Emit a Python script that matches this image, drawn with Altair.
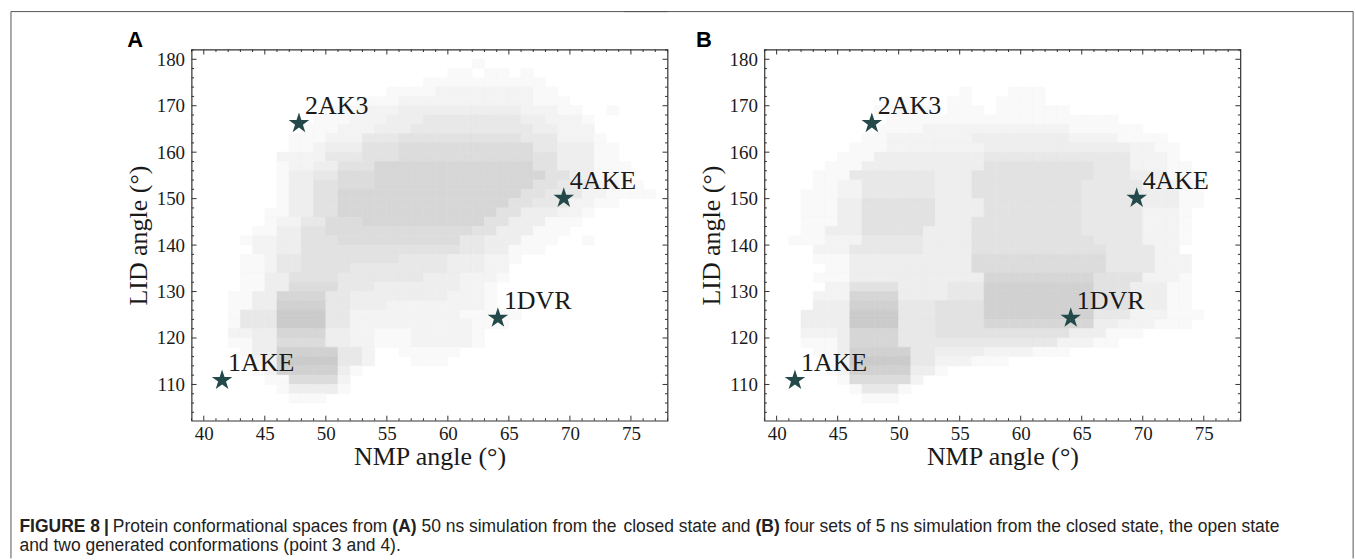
import re
import altair as alt
import pandas as pd

# ---------------- values ----------------
X_DOMAIN = [39, 78]
Y_DOMAIN = [102.2, 182.1]
X_MAJOR = [40, 45, 50, 55, 60, 65, 70, 75]
X_MINOR = [v for v in range(39, 79) if v % 5 != 0]
Y_MAJOR = [110, 120, 130, 140, 150, 160, 170, 180]
Y_MINOR = [v for v in range(104, 183, 2) if v % 10 != 0]

REF_NAMES = ["1AKE", "2AK3", "4AKE", "1DVR"]
REF_NMP = [41.5, 47.8, 69.5, 64.1]
REF_LID = [110.9, 166.2, 150.1, 124.3]

# density of the grey point cloud, read per cell (1 deg NMP x 2 deg LID)
# key = lower LID edge of the row, value = runs (NMP from, NMP to, level 1..9)
A_RUNS = {
    178: [(62, 62, 1)],
    176: [(60, 61, 1), (63, 64, 1), (66, 66, 1)],
    174: [(58, 67, 1)],
    172: [(55, 58, 1), (59, 66, 2), (67, 68, 1)],
    170: [(53, 55, 1), (56, 58, 2), (59, 66, 2), (67, 69, 1)],
    168: [(50, 52, 1), (53, 55, 2), (56, 65, 3), (66, 68, 2), (69, 70, 1), (73, 73, 1)],
    166: [(49, 51, 1), (52, 54, 2), (55, 57, 3), (58, 65, 4), (66, 67, 3), (68, 70, 2), (71, 71, 1)],
    164: [(48, 50, 1), (51, 53, 2), (54, 56, 3), (57, 66, 4), (67, 68, 3), (69, 71, 2)],
    162: [(47, 49, 1), (50, 52, 2), (53, 55, 4), (56, 65, 5), (66, 68, 4), (69, 71, 2), (72, 72, 1)],
    160: [(47, 48, 1), (49, 49, 2), (50, 52, 3), (53, 55, 5), (56, 66, 6), (67, 68, 4), (69, 71, 3), (72, 73, 1)],
    158: [(46, 49, 2), (50, 52, 4), (53, 55, 5), (56, 66, 6), (67, 68, 5), (69, 71, 3), (72, 73, 1)],
    156: [(46, 46, 1), (47, 48, 2), (49, 50, 3), (51, 53, 5), (54, 66, 7), (67, 68, 5), (69, 71, 3), (72, 74, 1)],
    154: [(46, 46, 1), (47, 48, 3), (49, 50, 4), (51, 53, 6), (54, 67, 7), (68, 69, 5), (70, 71, 3), (72, 74, 1)],
    152: [(46, 46, 1), (47, 48, 3), (49, 50, 5), (51, 53, 6), (54, 66, 7), (67, 68, 5), (69, 71, 4), (72, 73, 2), (74, 75, 1)],
    150: [(46, 46, 1), (47, 48, 3), (49, 50, 5), (51, 65, 7), (66, 67, 5), (68, 70, 4), (71, 72, 2), (73, 76, 1)],
    148: [(46, 46, 1), (47, 48, 3), (49, 50, 5), (51, 64, 7), (65, 66, 5), (67, 69, 4), (70, 71, 2), (72, 73, 1)],
    146: [(45, 46, 1), (47, 48, 3), (49, 50, 5), (51, 63, 7), (64, 65, 5), (66, 68, 3), (69, 70, 2), (71, 71, 1)],
    144: [(45, 45, 1), (46, 47, 2), (48, 49, 4), (50, 52, 6), (53, 62, 7), (63, 64, 5), (65, 67, 3), (68, 70, 1)],
    142: [(44, 45, 1), (46, 47, 3), (48, 49, 5), (50, 61, 6), (62, 63, 5), (64, 66, 3), (67, 69, 1)],
    140: [(43, 43, 1), (44, 45, 2), (46, 47, 3), (48, 50, 5), (51, 60, 6), (61, 62, 4), (63, 65, 3), (66, 68, 1), (71, 71, 1)],
    138: [(44, 45, 2), (46, 47, 3), (48, 60, 5), (61, 62, 4), (63, 64, 3), (65, 67, 1)],
    136: [(43, 44, 1), (45, 45, 2), (46, 47, 4), (48, 55, 5), (56, 59, 4), (60, 62, 3), (63, 64, 2), (65, 65, 1)],
    134: [(43, 44, 1), (45, 45, 2), (46, 47, 4), (48, 51, 5), (52, 59, 4), (60, 62, 3), (63, 64, 2)],
    132: [(43, 44, 1), (45, 46, 3), (47, 50, 5), (51, 57, 4), (58, 60, 3), (61, 63, 2), (64, 64, 1)],
    130: [(43, 44, 1), (45, 46, 3), (47, 50, 6), (51, 53, 4), (54, 60, 3), (61, 62, 2), (63, 63, 1)],
    128: [(42, 43, 1), (44, 45, 3), (46, 49, 7), (50, 51, 4), (52, 59, 3), (60, 62, 2), (63, 63, 1)],
    126: [(42, 43, 1), (44, 45, 3), (46, 49, 8), (50, 51, 4), (52, 54, 3), (55, 62, 2), (63, 63, 1)],
    124: [(42, 42, 1), (43, 45, 4), (46, 49, 9), (50, 51, 4), (52, 60, 2), (61, 65, 1)],
    122: [(42, 42, 1), (43, 45, 4), (46, 49, 9), (50, 51, 4), (52, 61, 2), (62, 64, 1)],
    120: [(42, 43, 2), (44, 45, 3), (46, 49, 7), (50, 51, 3), (52, 53, 2), (54, 56, 1), (57, 61, 2), (62, 62, 1)],
    118: [(42, 43, 1), (44, 45, 3), (46, 49, 6), (50, 51, 3), (52, 53, 2), (54, 56, 1), (57, 61, 2), (62, 62, 1)],
    116: [(43, 43, 1), (44, 45, 3), (46, 50, 8), (51, 52, 4), (53, 53, 2), (56, 60, 1)],
    114: [(44, 45, 2), (46, 50, 9), (51, 52, 4), (53, 53, 2), (57, 59, 1)],
    112: [(44, 44, 1), (45, 45, 2), (46, 50, 8), (51, 51, 3), (52, 52, 1)],
    110: [(45, 46, 1), (47, 50, 6), (51, 51, 2)],
    108: [(46, 46, 1), (47, 50, 3), (51, 51, 1)],
    106: [(47, 49, 1)],
}

B_RUNS = {
    172: [(55, 55, 1), (59, 61, 1)],
    170: [(50, 51, 1), (54, 55, 1), (58, 61, 1)],
    168: [(48, 52, 1), (54, 56, 1), (58, 63, 1)],
    166: [(49, 57, 1), (58, 64, 1), (65, 67, 1)],
    164: [(48, 51, 1), (52, 54, 2), (55, 63, 2), (64, 69, 1)],
    162: [(47, 48, 1), (49, 55, 2), (56, 63, 3), (64, 67, 2), (68, 71, 1)],
    160: [(46, 48, 1), (49, 56, 2), (57, 68, 3), (69, 70, 2), (71, 72, 1)],
    158: [(45, 47, 1), (48, 56, 3), (57, 68, 4), (69, 71, 2), (72, 72, 1)],
    156: [(44, 46, 1), (47, 56, 3), (57, 65, 5), (66, 68, 4), (69, 71, 2), (72, 73, 1)],
    154: [(43, 45, 1), (46, 52, 4), (53, 55, 3), (56, 65, 5), (66, 68, 4), (69, 71, 3), (72, 73, 1)],
    152: [(43, 44, 1), (45, 46, 2), (47, 52, 4), (53, 55, 3), (56, 64, 5), (65, 69, 4), (70, 72, 2), (73, 74, 1)],
    150: [(42, 44, 1), (45, 46, 2), (47, 52, 4), (53, 55, 3), (56, 64, 5), (65, 69, 4), (70, 72, 3), (73, 74, 1)],
    148: [(42, 44, 1), (45, 46, 3), (47, 52, 5), (53, 56, 3), (57, 64, 5), (65, 69, 4), (70, 72, 3), (73, 74, 1)],
    146: [(42, 44, 1), (45, 46, 3), (47, 52, 5), (53, 56, 3), (57, 64, 5), (65, 69, 4), (70, 72, 2), (73, 73, 1)],
    144: [(42, 44, 1), (45, 46, 3), (47, 52, 5), (53, 55, 3), (56, 64, 5), (65, 69, 4), (70, 72, 2), (73, 73, 1)],
    142: [(42, 43, 1), (44, 46, 3), (47, 51, 5), (52, 55, 3), (56, 64, 5), (65, 69, 4), (70, 72, 2), (73, 73, 1)],
    140: [(41, 43, 1), (44, 46, 2), (47, 51, 4), (52, 55, 3), (56, 65, 5), (66, 69, 4), (70, 72, 2), (73, 73, 1)],
    138: [(43, 45, 2), (46, 51, 4), (52, 55, 3), (56, 66, 5), (67, 70, 4), (71, 72, 2)],
    136: [(43, 45, 1), (46, 55, 3), (56, 66, 6), (67, 70, 4), (71, 73, 2)],
    134: [(44, 45, 1), (46, 55, 3), (56, 66, 6), (67, 70, 4), (71, 73, 2)],
    132: [(43, 45, 1), (46, 56, 3), (57, 65, 7), (66, 69, 5), (70, 72, 2), (73, 73, 1)],
    130: [(44, 45, 2), (46, 49, 5), (50, 53, 3), (54, 56, 4), (57, 65, 8), (66, 68, 5), (69, 71, 3), (72, 73, 1)],
    128: [(43, 45, 2), (46, 49, 7), (50, 53, 3), (54, 56, 4), (57, 65, 8), (66, 68, 5), (69, 71, 3), (72, 73, 1)],
    126: [(43, 45, 3), (46, 49, 8), (50, 52, 4), (53, 56, 5), (57, 65, 8), (66, 68, 5), (69, 71, 3), (72, 73, 1)],
    124: [(42, 45, 3), (46, 49, 9), (50, 52, 4), (53, 56, 5), (57, 65, 8), (66, 68, 4), (69, 71, 2), (72, 74, 1)],
    122: [(42, 45, 3), (46, 49, 9), (50, 52, 4), (53, 56, 5), (57, 65, 7), (66, 67, 3), (68, 70, 2), (71, 73, 1)],
    120: [(42, 44, 2), (45, 45, 3), (46, 49, 7), (50, 52, 4), (53, 56, 5), (57, 63, 5), (64, 66, 3), (67, 69, 1)],
    118: [(42, 44, 1), (45, 45, 3), (46, 49, 7), (50, 52, 4), (53, 56, 4), (57, 62, 4), (63, 65, 2), (66, 67, 1)],
    116: [(43, 44, 1), (45, 45, 3), (46, 50, 8), (51, 52, 4), (53, 56, 3), (57, 60, 2), (61, 63, 1)],
    114: [(44, 44, 1), (45, 45, 2), (46, 50, 9), (51, 52, 4), (53, 55, 2), (56, 58, 1)],
    112: [(44, 44, 1), (45, 45, 2), (46, 50, 8), (51, 52, 3), (53, 53, 1)],
    110: [(45, 45, 1), (46, 50, 6), (51, 51, 2)],
    108: [(46, 46, 1), (47, 49, 4), (50, 50, 1)],
    106: [(47, 49, 1)],
}

CAPTION_1 = [
    ("FIGURE 8", True),
    ("|", True),
    ("Protein conformational spaces from ", False),
    ("(A)", True),
    (" 50 ns simulation from the closed state and ", False),
    ("(B)", True),
    (" four sets of 5 ns simulation from the closed state, the open state", False),
]
CAPTION_2 = "and two generated conformations (point 3 and 4)."

# ---------------- layout / styling ----------------
SERIF = "Liberation Serif"
SANS = "Liberation Sans"
AXC = "#333333"
TXT = "#1a1a1a"
STAR = "#23494a"
# five-pointed star marker (unit symbol coordinates)
STAR_PATH = ("M0,-1L0.2245,-0.309L0.9511,-0.309L0.3633,0.118L0.5878,0.809L0,0.382"
             "L-0.5878,0.809L-0.3633,0.118L-0.9511,-0.309L-0.2245,-0.309Z")
W, H = 477, 372
A_ORG = 190.5          # page x of panel A plot origin
B_ORG = 762.5          # page x of panel B plot origin
TOP_ORG = 47.5         # page y of plot tops
FRAME_L, FRAME_T, FRAME_R, FRAME_B = 9.5, 9.5, 1352.5, 557.5
CAP_SIZE = 17.5
CAP_SCALE = 1.0
CAP_X0 = 18.0
CAP_BASE1 = 531.0
CAP_BASE2 = 550.0
A_RIGHT_BOUND = W + 0.6

xs = alt.Scale(domain=X_DOMAIN, nice=False, zero=False)
ys = alt.Scale(domain=Y_DOMAIN, nice=False, zero=False)

AX_X = alt.Axis(
    values=X_MAJOR, title="NMP angle (°)", ticks=False, domain=False, grid=False,
    labelFont=SERIF, labelFontSize=19, labelColor=TXT, labelPadding=4,
    labelFlush=False, labelOverlap=False, titleFont=SERIF, titleFontSize=26,
    titleFontWeight="normal", titleColor=TXT, titlePadding=0)
AX_Y = alt.Axis(
    values=Y_MAJOR, title="LID angle (°)", ticks=False, domain=False, grid=False,
    labelFont=SERIF, labelFontSize=19, labelColor=TXT, labelPadding=7,
    labelFlush=False, labelOverlap=False, titleFont=SERIF, titleFontSize=26,
    titleFontWeight="normal", titleColor=TXT, titlePadding=5)

ref = pd.DataFrame({"name": REF_NAMES, "nmp": REF_NMP, "lid": REF_LID})
one = pd.DataFrame({"k": [0]})


def grey(level):
    v = int(round(255 - level * 5.8))
    return "#{0:02x}{0:02x}{0:02x}".format(v)


def cells(runs):
    rows = []
    for y0, segs in runs.items():
        for xa, xb, lev in segs:
            for x0 in range(xa, xb + 1):
                rows.append({"x0": x0, "x1": x0 + 1, "y0": y0, "y1": y0 + 2, "fill": grey(lev)})
    return pd.DataFrame(rows)


def tick_marks():
    """inward ticks on the four sides, placed through the panel scales."""
    out = []
    for vals, size in [(X_MAJOR, 5), (X_MINOR, 2.5)]:
        d = pd.DataFrame({"v": vals})
        for y0, y1 in [(H, H - size), (0, size)]:
            out.append(alt.Chart(d).mark_rule(color=AXC, strokeWidth=1).encode(
                x=alt.X("v:Q", scale=xs, axis=AX_X), y=alt.value(y0), y2=alt.value(y1)))
    for vals, size in [(Y_MAJOR, 5), (Y_MINOR, 2.5)]:
        d = pd.DataFrame({"v": vals})
        for x0, x1 in [(0, size), (W, W - size)]:
            out.append(alt.Chart(d).mark_rule(color=AXC, strokeWidth=1).encode(
                y=alt.Y("v:Q", scale=ys, axis=AX_Y), x=alt.value(x0), x2=alt.value(x1)))
    return out


REG = {" ": 278, "(": 333, ")": 333, ",": 278, ".": 278, "|": 260,
       "a": 556, "b": 556, "c": 500, "d": 556, "e": 556, "f": 278, "g": 556, "h": 556,
       "i": 222, "l": 222, "m": 833, "n": 556, "o": 556, "p": 556, "r": 333, "s": 500,
       "t": 278, "u": 556, "v": 500, "w": 722, "x": 500, "y": 500, "P": 667}
BOLD = {" ": 278, "(": 333, ")": 333, "|": 280, "A": 722, "B": 722, "F": 611, "I": 278,
        "G": 778, "U": 722, "R": 722, "E": 667}


def tw(s, bold):
    t = BOLD if bold else REG
    return sum(t.get(c, 556) for c in s) * CAP_SIZE * CAP_SCALE / 1000.0


def caption_pieces():
    """split caption line 1 into words placed on the page; assign to panel A or B."""
    toks = []
    x = CAP_X0
    for i, (seg, bold) in enumerate(CAPTION_1):
        for p in re.split(r"( )", seg):
            if p == "":
                continue
            w = tw(p, bold)
            if p != " ":
                toks.append([p, bold, x, x + w, i])
            x += w
        if i < 2:
            x += 4
    boundary = A_ORG + W - 3
    in_b = False
    for t in toks:
        if t[3] > boundary:
            in_b = True
        t.append("B" if in_b else "A")
    pieces = []
    for t in toks:
        if pieces and pieces[-1][4] == t[4] and pieces[-1][5] == t[5]:
            pieces[-1][0] += " " + t[0]
        else:
            pieces.append(list(t))
    return pieces


PIECES = caption_pieces()
B_FIRST = min([p[2] - B_ORG for p in PIECES if p[5] == "B"] + [0])
B_LEFT = min(B_FIRST, -69.0)
SPACING = (B_ORG - A_ORG) - A_RIGHT_BOUND + B_LEFT


def text_mark(txt, x, y, bold=False, size=CAP_SIZE, font=SANS, color="#222222"):
    return alt.Chart(one).mark_text(
        text=txt, font=font, fontSize=size, fontWeight="bold" if bold else "normal",
        align="left", baseline="alphabetic", color=color).encode(
        x=alt.value(x), y=alt.value(y))


def rule(x, y, x2=None, y2=None):
    enc = dict(x=alt.value(x), y=alt.value(y))
    if x2 is not None:
        enc["x2"] = alt.value(x2)
    if y2 is not None:
        enc["y2"] = alt.value(y2)
    return alt.Chart(one).mark_rule(color="#555555", strokeWidth=1).encode(**enc)


def panel(runs, letter, letter_dx, extra):
    cloud = alt.Chart(cells(runs)).mark_rect(strokeWidth=0.6).encode(
        x=alt.X("x0:Q", scale=xs, axis=AX_X),
        x2="x1:Q",
        y=alt.Y("y0:Q", scale=ys, axis=AX_Y),
        y2="y1:Q",
        color=alt.Color("fill:N", scale=None),
        stroke=alt.Stroke("fill:N", scale=None),
    )
    stars = alt.Chart(ref).mark_point(shape=STAR_PATH, filled=True, size=470, color=STAR,
                                      opacity=1, strokeWidth=0).encode(
        x=alt.X("nmp:Q", scale=xs, axis=AX_X),
        y=alt.Y("lid:Q", scale=ys, axis=AX_Y),
    )
    names = alt.Chart(ref).mark_text(align="left", baseline="alphabetic", dx=6, dy=-9,
                                      font=SERIF, fontSize=26, color=TXT).encode(
        x=alt.X("nmp:Q", scale=xs, axis=AX_X),
        y=alt.Y("lid:Q", scale=ys, axis=AX_Y),
        text="name:N",
    )
    let = text_mark(letter, letter_dx, -2.5, bold=True, size=22, color="#000000")
    layers = [cloud] + tick_marks() + [stars, names, let] + extra
    return alt.layer(*layers).properties(width=W, height=H)


ya = lambda v: v - TOP_ORG
a_extra = [
    rule(FRAME_L - A_ORG, ya(FRAME_T), y2=ya(FRAME_B)),
    rule(FRAME_L - A_ORG, ya(FRAME_T), x2=W),
    text_mark(CAPTION_2, CAP_X0 - A_ORG, ya(CAP_BASE2)),
]
b_extra = [
    rule(B_LEFT + 0.5, ya(FRAME_T), x2=FRAME_R - B_ORG),
    rule(FRAME_R - B_ORG, ya(FRAME_T), y2=ya(FRAME_B)),
]
for txt, bold, x0, x1, seg, pan in PIECES:
    if pan == "A":
        a_extra.append(text_mark(txt, x0 - A_ORG, ya(CAP_BASE1), bold=bold))
    else:
        b_extra.append(text_mark(txt, x0 - B_ORG, ya(CAP_BASE1), bold=bold))

chart = alt.hconcat(
    panel(A_RUNS, "A", -64.5, a_extra),
    panel(B_RUNS, "B", -68.5, b_extra),
    spacing=SPACING,
).properties(
    padding={"left": 9, "top": 9, "right": 0, "bottom": 0}
).configure_view(stroke=AXC, strokeWidth=1.2)

chart.save("out.html", embed_options={"renderer": "svg", "actions": False})
